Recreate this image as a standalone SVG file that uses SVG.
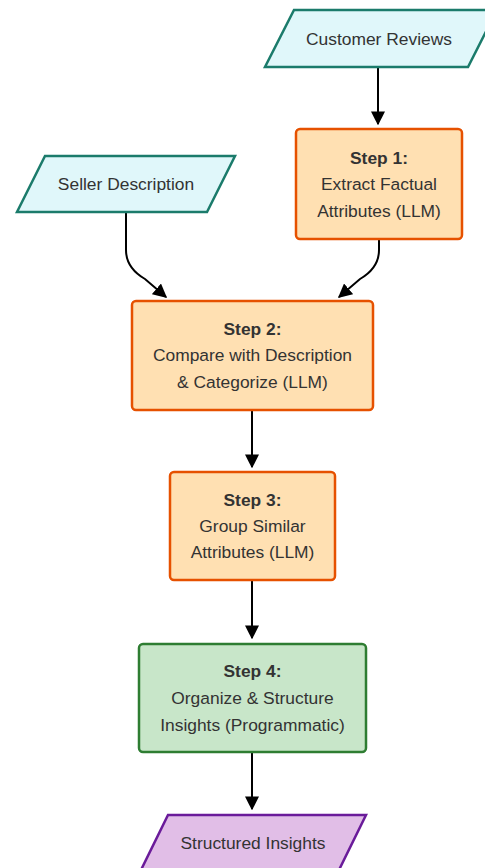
<svg xmlns="http://www.w3.org/2000/svg" width="485" height="868" viewBox="0 0 485 868">
<defs>
<marker id="arr" viewBox="0 0 10 10" refX="9" refY="5" markerWidth="14" markerHeight="14" markerUnits="userSpaceOnUse" orient="auto">
<path d="M0,0 L10,5 L0,10 z" fill="#000"/>
</marker>
<style>
.t{font-family:"Liberation Sans",Arial,sans-serif;font-size:17.4px;fill:#333;text-anchor:middle}
.b{font-weight:bold}
.in{fill:#e0f7fa;stroke:#1b7b6b;stroke-width:2.5}
.llm{fill:#ffe0b2;stroke:#e65100;stroke-width:2.5}
.prog{fill:#c8e6c9;stroke:#2e7d32;stroke-width:2.5}
.out{fill:#e1bee7;stroke:#6a1b9a;stroke-width:2.5}
.c{fill:none;stroke:#000;stroke-width:2;marker-end:url(#arr)}
</style>
</defs>
<g id="connectors">
<path class="c" d="M378,67 L378,124"/>
<path class="c" d="M126,212 L126,250 Q126,268 145,279 L166,297"/>
<path class="c" d="M379,239 L379,250 Q379,268 360,279 L339,297"/>
<path class="c" d="M252,410 L252,467"/>
<path class="c" d="M252,580 L252,638"/>
<path class="c" d="M252,753 L252,809"/>
</g>
<g id="customer_reviews">
<polygon class="in" points="294,10 497,10 468,67 265,67"/>
<text class="t" x="379" y="45">Customer Reviews</text>
</g>
<g id="seller_description">
<polygon class="in" points="45,156 235,156 207,212 17,212"/>
<text class="t" x="126" y="190">Seller Description</text>
</g>
<g id="step1">
<rect class="llm" x="296" y="129" width="166" height="110" rx="4"/>
<text class="t b" x="379" y="164">Step 1:</text>
<text class="t" x="379" y="190">Extract Factual</text>
<text class="t" x="379" y="217">Attributes (LLM)</text>
</g>
<g id="step2">
<rect class="llm" x="132" y="301" width="241" height="109" rx="4"/>
<text class="t b" x="252.5" y="335">Step 2:</text>
<text class="t" x="252.5" y="361">Compare with Description</text>
<text class="t" x="252.5" y="388">&amp; Categorize (LLM)</text>
</g>
<g id="step3">
<rect class="llm" x="170" y="472" width="165" height="108" rx="4"/>
<text class="t b" x="252.5" y="506">Step 3:</text>
<text class="t" x="252.5" y="532">Group Similar</text>
<text class="t" x="252.5" y="558">Attributes (LLM)</text>
</g>
<g id="step4">
<rect class="prog" x="139" y="644" width="227" height="108" rx="4"/>
<text class="t b" x="252.5" y="677">Step 4:</text>
<text class="t" x="252.5" y="704">Organize &amp; Structure</text>
<text class="t" x="252.5" y="731">Insights (Programmatic)</text>
</g>
<g id="structured_insights">
<polygon class="out" points="168,815 366,815 338,872 140,872"/>
<text class="t" x="253" y="849">Structured Insights</text>
</g>
</svg>
